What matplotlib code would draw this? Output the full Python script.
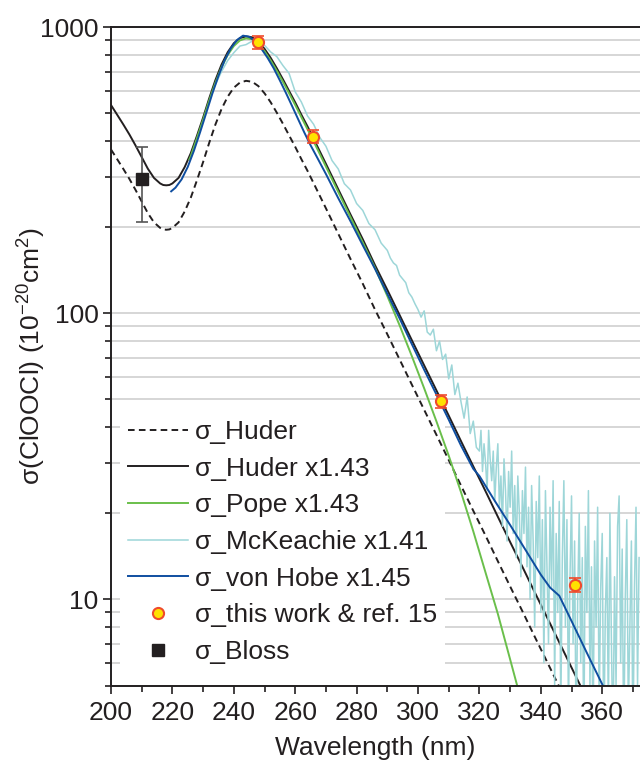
import numpy as np
import matplotlib
matplotlib.use("Agg")
import matplotlib.pyplot as plt
from matplotlib.ticker import MultipleLocator, LogLocator, FuncFormatter, NullFormatter

plt.rcParams['font.family'] = ['Liberation Sans', 'DejaVu Sans']
plt.rcParams['mathtext.fontset'] = 'custom'
plt.rcParams['mathtext.rm'] = 'Liberation Sans'
plt.rcParams['mathtext.it'] = 'Liberation Sans:italic'

# Huder (unscaled), plotted also x1.43
huder_wl = [200, 202, 204, 206, 208, 210, 212, 214, 216, 217, 218, 219, 220, 222, 224, 226,
            228, 230, 232, 234, 236, 238, 240, 242, 244, 246, 248, 250, 252, 254, 256, 258,
            260, 262, 264, 266, 270, 274, 278, 282, 286, 290, 294, 298, 302, 306, 310, 314,
            318, 322, 326, 330, 334, 338, 342, 346, 350, 354]
huder = [374, 346, 320, 295, 270, 246, 224, 208, 199, 196.5, 196, 196.5, 199, 208, 227, 254,
         292, 338, 395, 457, 518, 572, 615, 641, 650, 645, 623, 588, 547, 503, 460, 419,
         382, 346, 315, 285, 233, 190, 155, 127, 103, 84.5, 69.0, 56.3, 46.0, 37.6, 30.7, 25.0,
         20.4, 16.7, 13.6, 11.1, 9.09, 7.41, 6.06, 4.95, 4.04, 3.30]
huder_scale = 1.43

# Pope x1.43
pope_wl = [225.5, 226, 228, 230, 232, 234, 236, 238, 240, 242, 244, 246, 248, 250, 252, 254,
           256, 258, 260, 262, 264, 266, 270, 274, 278, 282, 286, 290, 294, 298, 302, 306,
           310, 314, 318, 322, 326, 330, 334]
pope_x143 = [345, 355, 410, 475, 555, 640, 725, 800, 860, 900, 915, 908, 875, 825, 766, 705,
             645, 588, 535, 485, 440, 399, 326, 266, 217, 177, 144, 115, 90.8, 70.8, 54.7, 41.9,
             31.8, 23.7, 17.3, 12.4, 8.9, 6.17, 4.27]

# von Hobe x1.45
hobe_wl = [219.6, 221, 223, 225, 227, 229, 231, 233, 235, 237, 239, 241, 243, 245, 247, 249,
           251, 253, 255, 257, 259, 261, 263, 265, 267, 270, 274, 278, 282, 286, 290, 294,
           298, 302, 306, 310, 314, 318, 320, 325, 330, 335, 340, 343, 346, 350, 355, 361]
hobe_x145 = [267, 275, 294, 325, 370, 429, 501, 586, 676, 766, 843, 902, 935, 927, 891, 841,
             782, 719, 652, 589, 530, 476, 428, 387, 353, 307, 253, 210, 173, 143, 117, 96,
             78, 63.5, 52, 42.5, 34.5, 28.6, 27, 22.1, 18.2, 14.9, 12.2, 11.0, 10.3, 8.4, 6.5, 4.8]

# McKeachie x1.41 (noisy spectrum): 2 nm steps, then 1 nm, then 0.5 nm
mck_wl_a = [234, 236, 238, 240, 242, 244, 246, 248, 250, 252, 254, 256, 258, 260, 262, 264,
            266, 268, 270, 272, 274, 276, 278, 280, 282, 284, 286, 288]
mck_a = [630, 700, 765, 815, 860, 870, 895, 880, 865, 820, 790, 735, 690, 595, 548, 490,
         458, 412, 384, 342, 320, 284, 270, 242, 229, 206, 196, 176]
mck_wl_b = [290, 291, 292, 293, 294, 295, 296, 297, 298, 299, 300, 301, 302, 303, 304,
            305, 306, 307, 308, 309, 310, 311, 312, 313, 314, 315, 316, 317, 318, 319]
mck_b = [166, 156, 150, 147, 136, 132, 128, 118, 114, 108, 103, 97, 102, 86, 84,
         88, 74, 80, 69, 72, 59, 66, 52, 57, 49, 43, 51, 38, 42, 34]
mck_wl_c = np.arange(320, 372.01, 0.5)
mck_c = [33, 39, 28, 35, 30, 24, 39, 31, 26, 33,
         22, 29, 35, 21, 27, 18, 31, 24, 16, 28,
         21, 33, 17, 25, 14, 27, 20, 12, 24, 17,
         29, 13, 21, 10, 25, 16, 8, 22, 14, 27,
         9, 19, 6, 24, 13, 7, 21, 11, 26, 5,
         17, 9, 22, 4, 14, 26, 8, 19, 4, 12,
         23, 7, 16, 3, 10, 20, 6, 14, 3, 18,
         9, 24, 5, 13, 3, 16, 8, 21, 4, 11,
         17, 3, 9, 14, 4, 20, 7, 3, 12, 5,
         18, 23, 6, 15, 3, 10, 19, 4, 8, 16,
         3, 11, 21, 5, 14]

# this work & ref. 15
tw_wl = [248, 265.7, 307.6, 351]
tw_val = [887, 415, 49.2, 11.25]
tw_err = [48, 21, 2.6, 0.6]

# Bloss
bloss_wl = [210]
bloss_val = [295]
bloss_err = [86]

mck_wl = np.concatenate([mck_wl_a, mck_wl_b, mck_wl_c])
mck_x141 = np.concatenate([mck_a, mck_b, mck_c])

fig = plt.figure(figsize=(6.4, 7.67), dpi=100)
ax = fig.add_axes([111 / 640, 1 - 685.5 / 767, 529 / 640, 658.2 / 767])

ax.plot(huder_wl, huder, color='#231f20', lw=1.4, dashes=(3.4, 2.2), label='σ_Huder')
ax.plot(huder_wl, np.array(huder) * huder_scale, color='#231f20', lw=1.4, label='σ_Huder x1.43')
ax.plot(pope_wl, pope_x143, color='#6abf4b', lw=1.4, label='σ_Pope x1.43')
ax.plot(mck_wl, mck_x141, color='#9dd6d8', lw=1.1, label='σ_McKeachie x1.41')
ax.plot(hobe_wl, hobe_x145, color='#0f4ea0', lw=1.4, label='σ_von Hobe x1.45')

ax.errorbar(tw_wl, tw_val, yerr=tw_err, fmt='none', ecolor='#ef4b2c', elinewidth=1.2,
            capsize=4, capthick=1.2, zorder=4)
ax.plot(tw_wl, tw_val, 'o', ms=8, mfc='#ffe100', mec='#ef4b2c', mew=1.5, ls='none',
        zorder=5, label='σ_this work & ref. 15')
ax.errorbar(bloss_wl, bloss_val, yerr=bloss_err, fmt='none', ecolor='#555555', elinewidth=1.2,
            capsize=4, capthick=1.2, zorder=4)
ax.plot(bloss_wl, bloss_val, 's', ms=8, color='#231f20', ls='none', zorder=5, label='σ_Bloss')

ax.set_yscale('log')
ax.set_xlim(200, 372.3)
ax.set_ylim(5, 1000)

ax.xaxis.set_major_locator(MultipleLocator(20))
ax.xaxis.set_minor_locator(MultipleLocator(10))
ax.yaxis.set_major_locator(LogLocator(base=10, numticks=10))
ax.yaxis.set_minor_locator(LogLocator(base=10, subs=np.arange(2, 10), numticks=10))
ax.yaxis.set_major_formatter(FuncFormatter(lambda v, p: '%d' % v))
ax.yaxis.set_minor_formatter(NullFormatter())

ax.tick_params(which='both', direction='out', width=1.2, labelsize=19, colors='#231f20')
ax.tick_params(which='major', length=6)
ax.tick_params(which='minor', length=4)
ax.tick_params(axis='x', pad=5)
ax.tick_params(axis='y', pad=3)

ax.set_axisbelow(True)
ax.yaxis.grid(True, which='both', color='#cfcfcf', lw=1.2)

for s in ['left', 'bottom', 'top']:
    ax.spines[s].set_linewidth(1.4)
    ax.spines[s].set_color('#231f20')
ax.spines['right'].set_visible(False)

ax.set_xlabel('Wavelength (nm)', fontsize=19, color='#231f20', labelpad=8)
ax.set_ylabel('σ(ClOOCl) (10$^{\\mathrm{-20}}$cm$^{\\mathrm{2}}$)', fontsize=19, color='#231f20')
ax.yaxis.set_label_coords(-0.119, 0.5)

leg = ax.legend(loc='upper left', bbox_to_anchor=(0.017, 0.4155), frameon=True, fancybox=False,
                edgecolor='none', facecolor='white', framealpha=1, fontsize=19,
                handlelength=2.27, handletextpad=0.27, labelspacing=0.48, borderpad=0.3,
                borderaxespad=0)
for t in leg.get_texts():
    t.set_color('#231f20')
leg.set_zorder(1.8)

fig.savefig('out.png', dpi=100)
